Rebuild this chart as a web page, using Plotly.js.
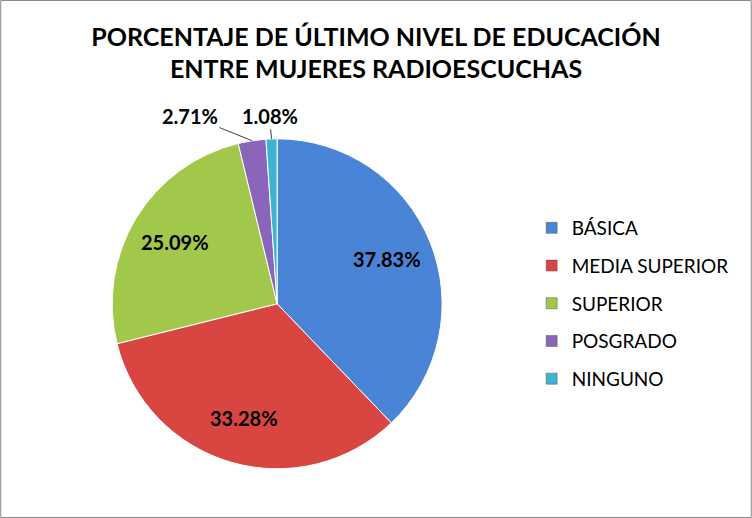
<!DOCTYPE html>
<html>
<head>
<meta charset="utf-8">
<script src="https://cdn.plot.ly/plotly-3.0.1.min.js"></script>
<style>
  html, body { margin: 0; padding: 0; background: #fff; }
  #chart { width: 752px; height: 518px; }
</style>
</head>
<body>
<div id="chart"></div>
<script>
// Education level categories and their shares (%)
const levels = ['BÁSICA', 'MEDIA SUPERIOR', 'SUPERIOR', 'POSGRADO', 'NINGUNO'];
const shares = [37.83, 33.28, 25.09, 2.71, 1.08];
const sliceColors = ['#4a84d6', '#d94541', '#a2c84b', '#8a65b9', '#3db5d2'];
// label offsets (px) for the small slices, which are labelled outside
const outsideOffsets = [null, null, null, [-62, -25], [-2, -23]];

// Pie geometry in paper space
const W = 752, H = 518;
const pieDomain = { x: [0.149, 0.588], y: [0.095, 0.732] };
const cx = (pieDomain.x[0] + pieDomain.x[1]) / 2;
const cy = (pieDomain.y[0] + pieDomain.y[1]) / 2;
const radiusPx = (pieDomain.x[1] - pieDomain.x[0]) * W / 2;

const pie = {
    type: 'pie',
    labels: levels,
    values: shares,
    sort: false,
    direction: 'clockwise',
    rotation: 0,
    textinfo: 'none',
    marker: {
        colors: sliceColors,
        line: { color: '#ffffff', width: 1 }
    },
    domain: pieDomain,
    showlegend: false,
    hoverinfo: 'label+percent'
};

// Percentage labels, placed on each slice's mid angle
const total = shares.reduce((a, b) => a + b, 0);
let cum = 0;
const labelFont = { family: 'Lato, sans-serif', size: 20, color: '#000', weight: 'bold' };
const annotations = shares.map((v, i) => {
    const mid = (cum + v / 2) / total * 2 * Math.PI;
    cum += v;
    const text = '<b>' + v.toFixed(2) + '%</b>';
    const off = outsideOffsets[i];
    if (off) {
        return {
            xref: 'paper', yref: 'paper',
            x: cx + radiusPx * Math.sin(mid) / W,
            y: cy + radiusPx * Math.cos(mid) / H,
            text: text, font: labelFont,
            showarrow: true, arrowhead: 0, arrowwidth: 1, arrowcolor: '#404040',
            ax: off[0], ay: off[1], standoff: 0
        };
    }
    return {
        xref: 'paper', yref: 'paper',
        x: cx + 0.72 * radiusPx * Math.sin(mid) / W,
        y: cy + 0.72 * radiusPx * Math.cos(mid) / H,
        xanchor: 'center', yanchor: 'middle',
        text: text, font: labelFont, showarrow: false
    };
});

// Legend entries (Excel-style spacing), one group per category
const legendTraces = levels.map((name, i) => ({
    type: 'scatter',
    mode: 'markers',
    x: [null],
    y: [null],
    name: name,
    legendgroup: 'g' + i,
    marker: { symbol: 'square', size: 11, color: sliceColors[i], line: { color: '#555', width: 0.5 } },
    hoverinfo: 'skip'
}));

const layout = {
    width: W,
    height: H,
    paper_bgcolor: '#ffffff',
    plot_bgcolor: '#ffffff',
    margin: { l: 0, r: 0, t: 0, b: 0 },
    font: { family: 'Lato, sans-serif', color: '#000' },
    title: {
        text: '<b>PORCENTAJE DE ÚLTIMO NIVEL DE EDUCACIÓN<br>ENTRE MUJERES RADIOESCUCHAS</b>',
        font: { family: 'Lato, sans-serif', size: 25, color: '#000' },
        x: 0.5,
        xanchor: 'center',
        y: 0.912,
        yanchor: 'top'
    },
    xaxis: { visible: false },
    yaxis: { visible: false },
    showlegend: true,
    legend: {
        x: 0.707,
        y: 0.5965,
        xanchor: 'left',
        yanchor: 'top',
        traceorder: 'grouped',
        tracegroupgap: 10,
        itemwidth: 30,
        font: { family: 'Lato, sans-serif', size: 19, color: '#000' },
        bgcolor: 'rgba(0,0,0,0)'
    },
    annotations: annotations,
    shapes: [{
        type: 'rect', xref: 'paper', yref: 'paper',
        x0: 0.001, x1: 0.999, y0: 0.001, y1: 0.999,
        line: { color: '#868686', width: 1 }
    }]
};

Plotly.newPlot('chart', [pie, ...legendTraces], layout, { displayModeBar: false, staticPlot: true });
</script>
</body>
</html>
